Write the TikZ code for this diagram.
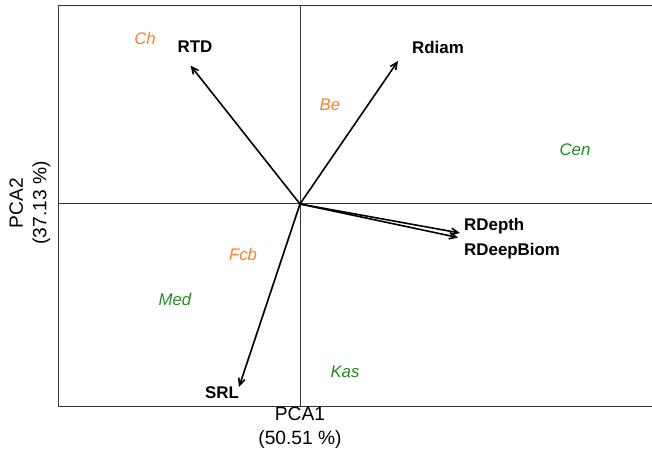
\documentclass[tikz,border=0pt]{standalone}
\usepackage{fontspec}
\setmainfont{Liberation Sans}
\usetikzlibrary{arrows.meta}
\definecolor{sporange}{RGB}{255,127,39}
\definecolor{spgreen}{RGB}{34,139,34}
\begin{document}
\begin{tikzpicture}[x=1pt,y=-1pt,
  frameline/.style={draw=black!80,line width=0.9pt},
  vec/.style={draw=black,line width=1.6pt,-{Straight Barb[length=7pt,width=6.5pt]}},
  trait/.style={font=\fontsize{16.9}{18}\selectfont\bfseries,inner sep=0pt},
  orsite/.style={font=\fontsize{16.8}{18}\selectfont\itshape,text=sporange,inner sep=0pt},
  grsite/.style={font=\fontsize{16.8}{18}\selectfont\itshape,text=spgreen,inner sep=0pt},
  axlab/.style={font=\fontsize{19.2}{23.5}\selectfont,inner sep=0pt,align=center}]
\useasboundingbox (0,0) rectangle (652,455);
% frame and axes
\draw[frameline] (652,5.5) -- (58,5.5) -- (58,406) -- (652,406);
\draw[frameline] (300,5.5) -- (300,406);
\draw[frameline] (58,203.5) -- (652,203.5);
% origin and arrow tips
\coordinate (o) at (300,204);
\coordinate (tRTD) at (190.5,65.5);
\coordinate (tRdiam) at (398,61);
\coordinate (tRDepth) at (460,233);
\coordinate (tRDeep) at (458,237.5);
\coordinate (tSRL) at (239,387);
\draw[vec] (o) -- (tRTD);
\draw[vec] (o) -- (tRdiam);
\draw[vec] (o) -- (tRDepth);
\draw[vec] (o) -- (tRDeep);
\draw[vec] (o) -- (tSRL);
% trait labels
\node[trait] (RTD) at (195,47) {RTD};
\node[trait] (Rdiam) at (438,47) {Rdiam};
\node[trait,anchor=west] (RDepth) at (464,226) {RDepth};
\node[trait,anchor=west] (RDeepBiom) at (464,251) {RDeepBiom};
\node[trait] (SRL) at (222,393) {SRL};
% site labels
\node[orsite] (Ch) at (145,38) {Ch};
\node[orsite] (Be) at (330,105) {Be};
\node[orsite] (Fcb) at (243,254) {Fcb};
\node[grsite] (Cen) at (575,150) {Cen};
\node[grsite] (Med) at (175,299) {Med};
\node[grsite] (Kas) at (345,372) {Kas};
% axis titles
\node[axlab] (xlab) at (300,428) {PCA1\\(50.51 \%)};
\node[axlab,rotate=90] (ylab) at (30,203) {PCA2\\(37.13 \%)};
\end{tikzpicture}
\end{document}
